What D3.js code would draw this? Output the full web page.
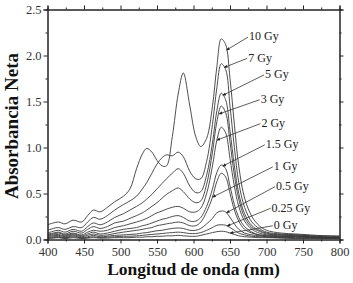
<!DOCTYPE html>
<html>
<head>
<meta charset="utf-8">
<script src="https://cdn.jsdelivr.net/npm/d3@7"></script>
<style>
  body { margin: 0; background: #fff; }
  svg { display: block; font-family: "Liberation Serif", "Times New Roman", serif; }
</style>
</head>
<body>
<svg id="chart"></svg>
<script>
// wavelength grid (nm)
const wavelengths = [400, 408, 415, 424, 435, 447, 455, 463, 472, 482, 492, 504, 513, 522, 530, 536, 543, 550, 557, 563,
    571, 579, 586, 595, 603, 610, 618, 626, 632, 638, 644, 650, 656, 662, 670, 680, 690, 700, 720, 740, 760, 780, 800];

const doses = ['10 Gy', '7 Gy', '5 Gy', '3 Gy', '2 Gy', '1.5 Gy', '1 Gy', '0.5 Gy', '0.25 Gy', '0 Gy'];

// absorbance, one array per dose
const abs10 = [0.16, 0.18, 0.19, 0.17, 0.21, 0.19, 0.26, 0.32, 0.30, 0.35, 0.41, 0.47, 0.55, 0.77, 0.93, 0.99, 0.95, 0.86, 0.80, 0.80,
    1.12, 1.58, 1.81, 1.45, 1.12, 1.01, 1.10, 1.45, 1.88, 2.18, 2.12, 1.75, 1.25, 0.80, 0.45, 0.25, 0.15, 0.10, 0.07, 0.06, 0.05, 0.04, 0.04];
const abs7 = [0.10, 0.12, 0.13, 0.11, 0.14, 0.13, 0.19, 0.24, 0.22, 0.26, 0.32, 0.38, 0.42, 0.47, 0.55, 0.62, 0.72, 0.82, 0.89, 0.92,
    0.91, 0.95, 0.90, 0.74, 0.66, 0.66, 0.85, 1.25, 1.65, 1.91, 1.85, 1.45, 1.00, 0.62, 0.35, 0.19, 0.12, 0.08, 0.06, 0.05, 0.04, 0.04, 0.03];
const abs5 = [0.07, 0.09, 0.10, 0.08, 0.11, 0.09, 0.14, 0.18, 0.16, 0.19, 0.24, 0.28, 0.32, 0.36, 0.40, 0.44, 0.49, 0.55, 0.61, 0.66,
    0.72, 0.77, 0.72, 0.58, 0.51, 0.52, 0.70, 1.05, 1.40, 1.59, 1.52, 1.18, 0.80, 0.50, 0.28, 0.15, 0.10, 0.07, 0.05, 0.05, 0.04, 0.03, 0.03];
const abs3 = [0.06, 0.07, 0.08, 0.06, 0.09, 0.07, 0.11, 0.14, 0.12, 0.14, 0.18, 0.20, 0.23, 0.26, 0.29, 0.32, 0.36, 0.40, 0.45, 0.49,
    0.53, 0.56, 0.52, 0.44, 0.40, 0.42, 0.60, 0.95, 1.28, 1.45, 1.38, 1.06, 0.70, 0.44, 0.24, 0.13, 0.09, 0.06, 0.05, 0.04, 0.03, 0.03, 0.02];
const abs2 = [0.05, 0.06, 0.07, 0.05, 0.07, 0.05, 0.08, 0.10, 0.09, 0.10, 0.13, 0.15, 0.17, 0.19, 0.21, 0.23, 0.26, 0.29, 0.31, 0.33,
    0.35, 0.36, 0.34, 0.30, 0.30, 0.34, 0.50, 0.80, 1.08, 1.22, 1.16, 0.88, 0.58, 0.36, 0.20, 0.11, 0.07, 0.05, 0.04, 0.04, 0.03, 0.02, 0.02];
const abs15 = [0.04, 0.05, 0.055, 0.04, 0.06, 0.04, 0.06, 0.08, 0.06, 0.07, 0.09, 0.11, 0.12, 0.13, 0.15, 0.16, 0.18, 0.20, 0.22, 0.23,
    0.25, 0.26, 0.24, 0.20, 0.20, 0.24, 0.36, 0.55, 0.73, 0.81, 0.77, 0.58, 0.38, 0.24, 0.14, 0.08, 0.05, 0.04, 0.035, 0.03, 0.03, 0.02, 0.02];
const abs1 = [0.03, 0.04, 0.045, 0.03, 0.05, 0.03, 0.045, 0.06, 0.045, 0.05, 0.065, 0.08, 0.09, 0.10, 0.11, 0.12, 0.13, 0.15, 0.16, 0.17,
    0.18, 0.19, 0.18, 0.15, 0.15, 0.19, 0.30, 0.46, 0.63, 0.72, 0.68, 0.50, 0.32, 0.20, 0.11, 0.07, 0.05, 0.04, 0.03, 0.03, 0.02, 0.02, 0.02];
const abs05 = [0.02, 0.03, 0.035, 0.02, 0.04, 0.02, 0.03, 0.045, 0.03, 0.035, 0.045, 0.05, 0.055, 0.06, 0.07, 0.075, 0.085, 0.095, 0.10, 0.11,
    0.12, 0.125, 0.12, 0.10, 0.10, 0.12, 0.17, 0.23, 0.29, 0.31, 0.30, 0.24, 0.17, 0.11, 0.07, 0.05, 0.04, 0.03, 0.025, 0.02, 0.02, 0.015, 0.015];
const abs025 = [0.015, 0.02, 0.025, 0.015, 0.03, 0.015, 0.02, 0.03, 0.02, 0.025, 0.03, 0.035, 0.035, 0.04, 0.045, 0.05, 0.055, 0.06, 0.065, 0.07,
    0.075, 0.08, 0.075, 0.065, 0.065, 0.075, 0.10, 0.13, 0.155, 0.16, 0.155, 0.13, 0.10, 0.07, 0.05, 0.035, 0.03, 0.025, 0.02, 0.015, 0.015, 0.01, 0.01];
const abs0 = [0.01, 0.015, 0.02, 0.01, 0.02, 0.01, 0.015, 0.02, 0.015, 0.015, 0.02, 0.02, 0.02, 0.025, 0.025, 0.03, 0.03, 0.035, 0.035, 0.04,
    0.04, 0.045, 0.04, 0.035, 0.035, 0.045, 0.06, 0.075, 0.085, 0.09, 0.085, 0.07, 0.055, 0.04, 0.03, 0.025, 0.02, 0.02, 0.015, 0.01, 0.01, 0.01, 0.01];

const seriesValues = [abs10, abs7, abs5, abs3, abs2, abs15, abs1, abs05, abs025, abs0];

// label annotation: where the text sits (nm, absorbance) and where the arrow touches the curve (nm)
const labelNm = [676, 675, 698, 692, 693, 699, 710, 713, 707, 710];
const labelAbs = [2.21, 1.98, 1.80, 1.53, 1.27, 1.04, 0.80, 0.585, 0.35, 0.16];
const tipNm = [645, 642, 640, 635, 632, 640, 626, 645, 646, 650];

const xTicks = [400, 450, 500, 550, 600, 650, 700, 750, 800];
const yTicks = [0, 0.5, 1.0, 1.5, 2.0, 2.5];

const width = 353, height = 283;
const margin = {top: 9.5, right: 13.5, bottom: 43.5, left: 47.5};
const innerW = width - margin.left - margin.right;
const innerH = height - margin.top - margin.bottom;

const svg = d3.select('#chart').attr('width', width).attr('height', height);

const x = d3.scaleLinear().domain([400, 800]).range([0, innerW]);
const y = d3.scaleLinear().domain([0, 2.5]).range([innerH, 0]);

const chart = svg.append('g').attr('transform', `translate(${margin.left}, ${margin.top})`);

chart.append('clipPath').attr('id', 'clip')
    .append('rect').attr('width', innerW).attr('height', innerH);

const series = doses.map((d, i) => ({
    dose: d,
    values: wavelengths.map((w, j) => ({w: w, a: seriesValues[i][j]}))
}));

const line = d3.line()
    .x(d => x(d.w))
    .y(d => y(d.a))
    .curve(d3.curveCatmullRom.alpha(0.5));

chart.append('g').attr('clip-path', 'url(#clip)')
    .selectAll('path')
    .data(series)
    .join('path')
    .attr('d', d => line(d.values))
    .attr('fill', 'none')
    .attr('stroke', '#3a3a3a')
    .attr('stroke-width', 0.9);

// axes
const minorX = d3.range(425, 800, 50);
const minorY = [0.25, 0.75, 1.25, 1.75, 2.25];

function styleAxis(g) {
    g.select('.domain').attr('stroke', '#222');
    g.selectAll('.tick line').attr('stroke', '#222');
    g.selectAll('.tick text')
        .attr('fill', '#333')
        .style('font-family', '"Liberation Serif", serif')
        .style('font-size', '12.5px');
}

chart.append('g')
    .attr('transform', `translate(0, ${innerH})`)
    .call(d3.axisBottom(x).tickValues(xTicks).tickSize(4).tickPadding(4).tickFormat(d3.format('d')))
    .call(styleAxis);
chart.append('g')
    .attr('transform', `translate(0, ${innerH})`)
    .call(d3.axisBottom(x).tickValues(minorX).tickSize(2).tickFormat(''))
    .call(styleAxis);

chart.append('g')
    .call(d3.axisTop(x).tickValues(xTicks).tickSize(4).tickFormat(''))
    .call(styleAxis);
chart.append('g')
    .call(d3.axisTop(x).tickValues(minorX).tickSize(2).tickFormat(''))
    .call(styleAxis);

chart.append('g')
    .call(d3.axisLeft(y).tickValues(yTicks).tickSize(4).tickPadding(2).tickFormat(d3.format('.1f')))
    .call(styleAxis);
chart.append('g')
    .call(d3.axisLeft(y).tickValues(minorY).tickSize(2).tickFormat(''))
    .call(styleAxis);

chart.append('g')
    .attr('transform', `translate(${innerW}, 0)`)
    .call(d3.axisRight(y).tickValues(yTicks).tickSize(4).tickFormat(''))
    .call(styleAxis);
chart.append('g')
    .attr('transform', `translate(${innerW}, 0)`)
    .call(d3.axisRight(y).tickValues(minorY).tickSize(2).tickFormat(''))
    .call(styleAxis);

// dose labels with leader arrows
function valueAt(vals, w) {
    const j = d3.bisectRight(wavelengths, w) - 1;
    const w0 = wavelengths[j], w1 = wavelengths[j + 1];
    const t = (w - w0) / (w1 - w0);
    return vals[j] + t * (vals[j + 1] - vals[j]);
}

const labels = doses.map((d, i) => ({
    text: d,
    lx: x(labelNm[i]),
    ly: y(labelAbs[i]),
    tx: x(tipNm[i]),
    ty: y(valueAt(seriesValues[i], tipNm[i]))
}));

svg.append('defs').append('marker')
    .attr('id', 'arrow')
    .attr('viewBox', '0 0 10 10')
    .attr('refX', 10).attr('refY', 5)
    .attr('markerWidth', 5).attr('markerHeight', 4)
    .attr('orient', 'auto')
    .append('path')
    .attr('d', 'M0,0 L10,5 L0,10 z')
    .attr('fill', '#222');

const lab = chart.append('g').selectAll('g')
    .data(labels)
    .join('g');

lab.append('line')
    .attr('x1', d => d.lx - 1)
    .attr('y1', d => d.ly + 1)
    .attr('x2', d => d.tx)
    .attr('y2', d => d.ty)
    .attr('stroke', '#333')
    .attr('stroke-width', 0.8)
    .attr('marker-end', 'url(#arrow)');

lab.append('text')
    .attr('x', d => d.lx)
    .attr('y', d => d.ly)
    .attr('dy', '0.35em')
    .attr('fill', '#222')
    .style('font-size', '12px')
    .text(d => d.text);

// axis titles
svg.append('text')
    .attr('x', margin.left + innerW / 2)
    .attr('y', 275)
    .attr('text-anchor', 'middle')
    .style('font-size', '17.5px')
    .style('font-weight', 'bold')
    .attr('fill', '#111')
    .text('Longitud de onda (nm)');

svg.append('text')
    .attr('transform', 'rotate(-90)')
    .attr('x', -126)
    .attr('y', 18)
    .attr('text-anchor', 'middle')
    .style('font-size', '19px')
    .style('font-weight', 'bold')
    .attr('fill', '#111')
    .text('Absorbancia Neta');
</script>
</body>
</html>
